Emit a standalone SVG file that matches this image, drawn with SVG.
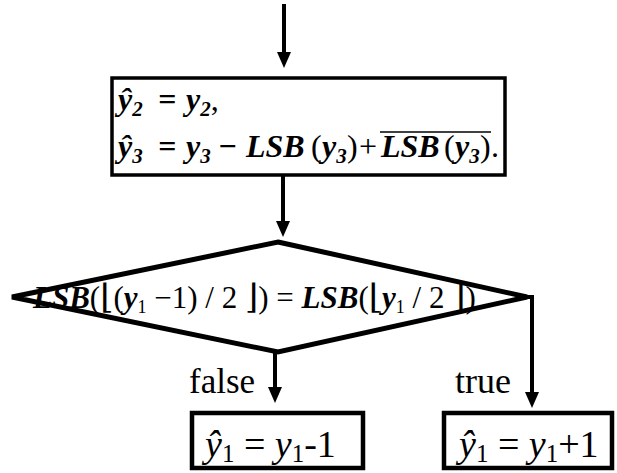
<svg xmlns="http://www.w3.org/2000/svg" width="617" height="473" viewBox="0 0 617 473">
<style>
  .box { fill: #fff; stroke: #000; stroke-width: 3.5; }
  .bbox { fill: #fff; stroke: #000; stroke-width: 4.5; }
  .dia { fill: #fff; stroke: #000; stroke-width: 5; stroke-linejoin: miter; }
  .con { fill: none; stroke: #000; stroke-width: 4; }
  .bi { font-weight: bold; font-style: italic; }
  .it { font-style: italic; }
  .rg { font-weight: normal; font-style: normal; }
</style>
<defs>
  <marker id="ah" markerUnits="userSpaceOnUse" markerWidth="16" markerHeight="16" viewBox="0 0 16 14" refX="1" refY="7" orient="auto">
    <path d="M0,0 L16,7 L0,14 z" fill="#000"/>
  </marker>
</defs>
<rect width="617" height="473" fill="#fff"/>
<g id="connectors">
  <line class="con" x1="284" y1="4" x2="284" y2="53" marker-end="url(#ah)"/>
  <line class="con" x1="283" y1="176" x2="283" y2="222" marker-end="url(#ah)"/>
  <line class="con" x1="275" y1="352" x2="275" y2="388" marker-end="url(#ah)"/>
  <path class="con" d="M525,297 H532 V393" marker-end="url(#ah)"/>
</g>
<g font-family="'Liberation Serif', 'DejaVu Serif', serif" fill="#000">
<g id="assign-box">
  <rect class="box" x="112" y="78" width="393" height="97"/>
  <text class="bi" font-size="32" y="110"><tspan x="118">ŷ</tspan><tspan font-size="21" dy="6">2</tspan><tspan dy="-6" x="158">=</tspan><tspan x="186">y</tspan><tspan font-size="21" dy="6">2</tspan><tspan dy="-6" class="rg">,</tspan></text>
  <text class="bi" font-size="32" y="157"><tspan x="118">ŷ</tspan><tspan font-size="21" dy="6">3</tspan><tspan dy="-6" x="158">=</tspan><tspan x="186">y</tspan><tspan font-size="21" dy="6">3</tspan><tspan dy="-6" x="218">−</tspan><tspan x="246">LSB</tspan><tspan x="311" class="rg">(</tspan><tspan x="322">y</tspan><tspan font-size="21" dy="6">3</tspan><tspan dy="-6" x="347" class="rg">)</tspan><tspan x="359" class="rg">+</tspan><tspan x="381">LSB</tspan><tspan x="444" class="rg">(</tspan><tspan x="455">y</tspan><tspan font-size="21" dy="6">3</tspan><tspan dy="-6" x="480" class="rg">)</tspan><tspan x="491" class="rg">.</tspan></text>
  <line x1="380" y1="132" x2="491" y2="132" stroke="#000" stroke-width="1.5"/>
</g>
<g id="decision">
  <polygon class="dia" points="278,242 527,297 278,352 12,297"/>
  <text font-size="31" y="308"><tspan x="33" class="bi">LSB</tspan><tspan>(</tspan><tspan font-family="'DejaVu Serif', serif" font-size="34">⌊</tspan><tspan>(</tspan><tspan class="bi">y</tspan><tspan font-size="18" dy="5">1</tspan><tspan dy="-5"> −1) / 2 </tspan><tspan font-family="'DejaVu Serif', serif" font-size="34">⌋</tspan><tspan>) = </tspan><tspan class="bi">LSB</tspan><tspan>(</tspan><tspan font-family="'DejaVu Serif', serif" font-size="34">⌊</tspan><tspan class="bi">y</tspan><tspan font-size="18" dy="5">1</tspan><tspan dy="-5"> / 2 </tspan><tspan font-family="'DejaVu Serif', serif" font-size="34">⌋</tspan><tspan>)</tspan></text>
</g>
<g id="label-false">
  <text font-size="35" x="189" y="393">false</text>
</g>
<g id="label-true">
  <text font-size="36" x="455" y="393">true</text>
</g>
<g id="box-false">
  <rect class="bbox" x="192" y="413" width="171" height="55"/>
  <text font-size="38" y="457"><tspan x="205" class="it">ŷ</tspan><tspan font-size="25" dy="5">1</tspan><tspan dy="-5"> = </tspan><tspan class="it">y</tspan><tspan font-size="25" dy="5">1</tspan><tspan dy="-5">-1</tspan></text>
</g>
<g id="box-true">
  <rect class="bbox" x="444" y="413" width="168" height="55"/>
  <text font-size="38" y="457"><tspan x="459" class="it">ŷ</tspan><tspan font-size="25" dy="5">1</tspan><tspan dy="-5"> = </tspan><tspan class="it">y</tspan><tspan font-size="25" dy="5">1</tspan><tspan dy="-5">+1</tspan></text>
</g>
</g>
</svg>
